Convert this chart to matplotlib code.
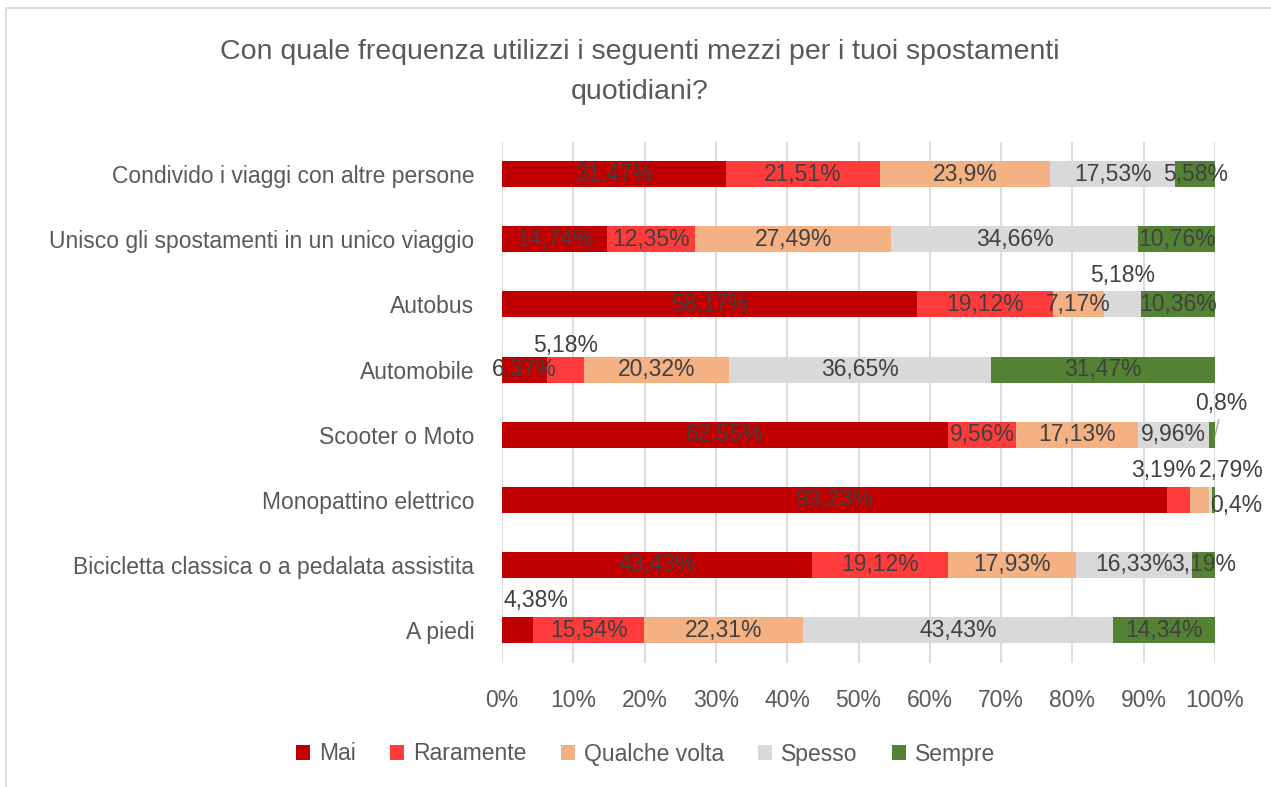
import numpy as np
import matplotlib
matplotlib.use("Agg")
import matplotlib.pyplot as plt
from matplotlib.patches import Rectangle

plt.rcParams['font.family'] = ['Liberation Sans', 'DejaVu Sans']

categories = [
    "Condivido i viaggi con altre persone",
    "Unisco gli spostamenti in un unico viaggio",
    "Autobus",
    "Automobile",
    "Scooter o Moto",
    "Monopattino elettrico",
    "Bicicletta classica o a pedalata assistita",
    "A piedi",
]
series = ["Mai", "Raramente", "Qualche volta", "Spesso", "Sempre"]
colors = ["#C00000", "#FF3B3B", "#F4B183", "#D9D9D9", "#548235"]

mai = [31.47, 14.74, 58.17, 6.37, 62.55, 93.23, 43.43, 4.38]
raramente = [21.51, 12.35, 19.12, 5.18, 9.56, 3.19, 19.12, 15.54]
qualche_volta = [23.9, 27.49, 7.17, 20.32, 17.13, 2.79, 17.93, 22.31]
spesso = [17.53, 34.66, 5.18, 36.65, 9.96, 0.4, 16.33, 43.43]
sempre = [5.58, 10.76, 10.36, 31.47, 0.8, 0.4, 3.19, 14.34]

values = np.array([mai, raramente, qualche_volta, spesso, sempre])

# labels moved off their segment: (row, series) -> (dx in %, dy in rows)
label_shift = {
    (2, 3): (0.0, -0.45),
    (3, 1): (0.0, -0.37),
    (4, 4): (1.2, -0.48),
    (5, 1): (-2.0, -0.45),
    (5, 2): (4.4, -0.45),
    (5, 4): (3.1, 0.08),
    (7, 0): (2.6, -0.46),
}
hidden = {(5, 3)}

FS = 16.5

fig = plt.figure(figsize=(12.71, 7.87), dpi=100)
ax = fig.add_axes([0.395, 0.158, 0.561, 0.662])

y = np.arange(len(categories))
left = np.zeros(len(categories))
for i, (name, col) in enumerate(zip(series, colors)):
    vals = values[i]
    ax.barh(y, vals, left=left, height=0.4, color=col, label=name, zorder=2)
    for r, v in enumerate(vals):
        if (r, i) in hidden:
            continue
        dx, dy = label_shift.get((r, i), (0.0, 0.0))
        txt = f"{v:g}".replace('.', ',') + '%'
        ax.text(left[r] + v / 2 + dx, r + dy, txt, ha='center', va='center',
                fontsize=FS, color='#404040', zorder=3, clip_on=False)
    left += vals

# leader line for the small Scooter label
ax.plot([100.5, 100.0], [3.77, 4.02], color='#A6A6A6', lw=1,
        clip_on=False, zorder=3)

ax.set_xlim(0, 100)
ax.set_ylim(len(categories) - 0.5, -0.5)
ax.set_yticks(y)
ax.set_yticklabels(categories, fontsize=FS, color='#595959')
ax.set_xticks(np.arange(0, 101, 10))
ax.set_xticklabels([f"{t}%" for t in range(0, 101, 10)], fontsize=FS, color='#595959')
ax.tick_params(axis='y', length=0, pad=20)
ax.tick_params(axis='x', length=0, pad=19)
ax.grid(axis='x', color='#D9D9D9', lw=1.3, zorder=0)
for s in ax.spines.values():
    s.set_visible(False)

fig.text(0.503, 1 - 52 / 787, "Con quale frequenza utilizzi i seguenti mezzi per i tuoi spostamenti",
         ha='center', va='center', fontsize=20.5, color='#595959')
fig.text(0.503, 1 - 92 / 787, "quotidiani?",
         ha='center', va='center', fontsize=20.5, color='#595959')

fig.legend(loc='center', bbox_to_anchor=(0.508, 1 - 754 / 787), ncol=5, frameon=False,
           fontsize=FS, handlelength=0.6, handleheight=0.6, handletextpad=0.4,
           columnspacing=1.5, labelcolor='#595959')

# chart area border
fig.add_artist(Rectangle((6 / 1271, -0.1), 1.2, 1.1 - 8 / 787, transform=fig.transFigure,
                         fill=False, edgecolor='#D9D9D9', lw=1.3))

fig.savefig("out.png", dpi=100)
